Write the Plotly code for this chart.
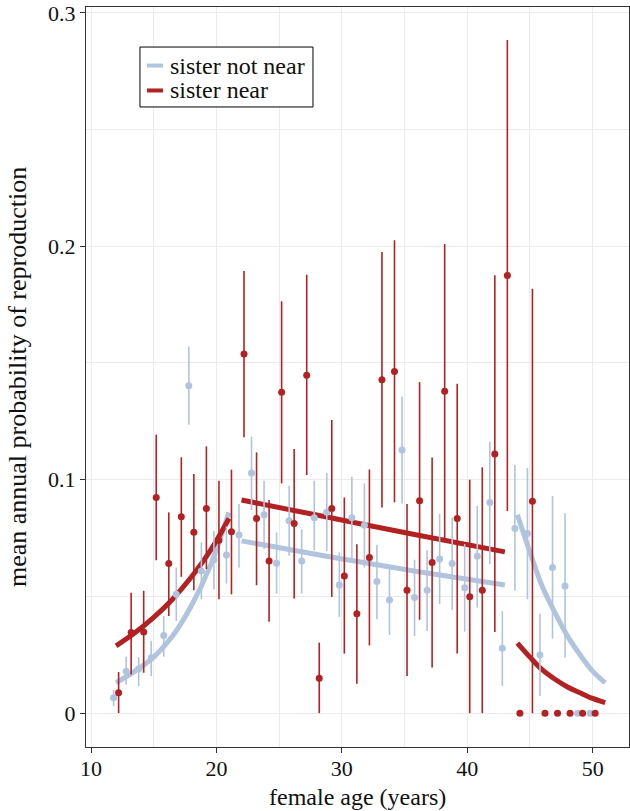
import plotly.graph_objects as go

# ---------------- data ----------------
ages_not_near = list(range(12, 51))
prob_not_near = [0.0066, 0.0179, 0.0189, 0.0237, 0.0333, 0.0509, 0.1402, 0.0609, 0.0657, 0.0677,
                 0.0763, 0.1029, 0.0850, 0.0642, 0.0824, 0.0652, 0.0837, 0.0861, 0.0549, 0.0837,
                 0.0805, 0.0564, 0.0485, 0.1127, 0.0495, 0.0527, 0.0660, 0.0641, 0.0537, 0.0672,
                 0.0902, 0.0278, 0.0791, 0.0770, 0.0249, 0.0624, 0.0545, 0.0, 0.0]
low_not_near = [0.0030, 0.0123, 0.0116, 0.0159, 0.0242, 0.0395, 0.1235, 0.0488, 0.0530, 0.0555,
                0.0624, 0.0870, 0.0703, 0.0512, 0.0674, 0.0512, 0.0698, 0.0695, 0.0412, 0.0655,
                0.0624, 0.0402, 0.0335, 0.0898, 0.0330, 0.0352, 0.0467, 0.0442, 0.0349, 0.0452,
                0.0638, 0.0116, 0.0524, 0.0488, 0.0073, 0.0319, 0.0238, 0.0, 0.0]
high_not_near = [0.0099, 0.0242, 0.0240, 0.0310, 0.0416, 0.0624, 0.1570, 0.0731, 0.0780, 0.0800,
                 0.0896, 0.1185, 0.0996, 0.0774, 0.0974, 0.0788, 0.0996, 0.1029, 0.0688, 0.1013,
                 0.0984, 0.0721, 0.0617, 0.1357, 0.0657, 0.0698, 0.0853, 0.0838, 0.0724, 0.0888,
                 0.1163, 0.0437, 0.1063, 0.1050, 0.0426, 0.0930, 0.0856, 0.0, 0.0]

ages_near = list(range(12, 51))
prob_near = [0.0087, 0.0345, 0.0348, 0.0924, 0.0641, 0.0841, 0.0775, 0.0877, 0.0741, 0.0777,
             0.1538, 0.0834, 0.0652, 0.1375, 0.0812, 0.1448, 0.0149, 0.0877, 0.0588, 0.0426,
             0.0667, 0.1428, 0.1464, 0.0527, 0.0910, 0.0645, 0.1379, 0.0834, 0.0499, 0.0527,
             0.1110, 0.1875, 0.0, 0.0908, 0.0, 0.0, 0.0, 0.0, 0.0]
low_near = [0.0, 0.0166, 0.0173, 0.0655, 0.0416, 0.0584, 0.0527, 0.0617, 0.0488, 0.0509,
            0.1182, 0.0548, 0.0392, 0.0984, 0.0491, 0.1020, 0.0, 0.0498, 0.0255, 0.0126,
            0.0290, 0.0881, 0.0903, 0.0159, 0.0400, 0.0196, 0.0748, 0.0255, 0.0, 0.0,
            0.0348, 0.0866, 0.0, 0.0, 0.0, 0.0, 0.0, 0.0, 0.0]
high_near = [0.0176, 0.0516, 0.0524, 0.1193, 0.0860, 0.1096, 0.1024, 0.1143, 0.0996, 0.1043,
             0.1894, 0.1117, 0.0913, 0.1764, 0.1132, 0.1878, 0.0302, 0.1256, 0.0924, 0.0724,
             0.1044, 0.1976, 0.2026, 0.0896, 0.1418, 0.1095, 0.2010, 0.1411, 0.1000, 0.1053,
             0.1876, 0.2884, 0.0, 0.1818, 0.0, 0.0, 0.0, 0.0, 0.0]

# fitted curves (three age segments)
fit_early_age = [12, 13.5, 15, 16.5, 18, 19.5, 21]
fit_early_not_near = [0.013, 0.018, 0.024, 0.033, 0.046, 0.063, 0.086]
fit_early_near = [0.0288, 0.0344, 0.0410, 0.0488, 0.0583, 0.0695, 0.0834]

fit_mid_age = [22, 29, 36, 43]
fit_mid_not_near = [0.0738, 0.0670, 0.0607, 0.0549]
fit_mid_near = [0.0913, 0.0838, 0.0763, 0.0691]

fit_late_age = [44, 45, 46, 47, 48, 49, 50, 51]
fit_late_not_near = [0.085, 0.069, 0.054, 0.043, 0.033, 0.025, 0.018, 0.013]
fit_late_near = [0.030, 0.024, 0.0185, 0.0145, 0.0112, 0.0087, 0.0063, 0.0045]

x_ticks = [10, 20, 30, 40, 50]
y_ticks = [0, 0.1, 0.2, 0.3]
y_tick_labels = ["0", "0.1", "0.2", "0.3"]

series_names = ["sister not near", "sister near"]
x_title = "female age (years)"
y_title = "mean annual probability of reproduction"

# ---------------- styling ----------------
BLUE = "#b0c4de"
RED = "#b22222"
DODGE = 0.2
FONT = "Liberation Serif"
TXT = "#111111"

fig = go.Figure()

# fitted curves
for ages, vals, col in [
    (fit_early_age, fit_early_not_near, BLUE), (fit_mid_age, fit_mid_not_near, BLUE),
    (fit_late_age, fit_late_not_near, BLUE),
    (fit_early_age, fit_early_near, RED), (fit_mid_age, fit_mid_near, RED),
    (fit_late_age, fit_late_near, RED),
]:
    fig.add_trace(go.Scatter(x=ages, y=vals, mode="lines", line=dict(color=col, width=5, shape="spline"),
                             showlegend=False, hoverinfo="skip"))

def point_trace(ages, vals, lows, highs, col, shift, name):
    xs = [a + shift for a in ages]
    plus = [h - v for v, h in zip(vals, highs)]
    minus = [v - l for v, l in zip(vals, lows)]
    return go.Scatter(x=xs, y=vals, mode="markers", name=name,
                      marker=dict(color=col, size=7),
                      error_y=dict(type="data", symmetric=False, array=plus, arrayminus=minus,
                                   color=col, thickness=1.6, width=0),
                      showlegend=False)

fig.add_trace(point_trace(ages_not_near, prob_not_near, low_not_near, high_not_near, BLUE, -DODGE,
                          series_names[0]))
fig.add_trace(point_trace(ages_near, prob_near, low_near, high_near, RED, DODGE, series_names[1]))

# legend box (drawn in paper coordinates, like the ggplot inset legend)
LEG_X0, LEG_X1, LEG_Y0, LEG_Y1 = 0.0994, 0.418, 0.8649, 0.9459
LEG_ROWS = [0.9209, 0.8872]
fig.add_shape(type="rect", xref="paper", yref="paper", x0=LEG_X0, x1=LEG_X1, y0=LEG_Y0, y1=LEG_Y1,
              line=dict(color="black", width=1), fillcolor="white", layer="above")
for name, col, yy in zip(series_names, [BLUE, RED], LEG_ROWS):
    fig.add_shape(type="line", xref="paper", yref="paper", x0=0.1123, x1=0.1418, y0=yy, y1=yy,
                  line=dict(color=col, width=4), layer="above")
    fig.add_annotation(xref="paper", yref="paper", x=0.151, y=yy, text=name, showarrow=False,
                       xanchor="left", yanchor="middle",
                       font=dict(family=FONT, size=24, color=TXT))

# axis titles placed like the reference
fig.add_annotation(xref="paper", yref="paper", x=-0.127, y=0.5, text=y_title, textangle=-90,
                   showarrow=False, xanchor="center", yanchor="middle",
                   font=dict(family=FONT, size=26, color=TXT))
fig.add_annotation(xref="paper", yref="paper", x=0.5, y=-0.0862, text=x_title,
                   showarrow=False, xanchor="center", yanchor="bottom", borderpad=0,
                   font=dict(family=FONT, size=24, color=TXT))

axis_common = dict(showgrid=True, gridcolor="#ebebeb", gridwidth=1, zeroline=False,
                   showline=True, linecolor="#333333", linewidth=1, mirror=True,
                   ticks="outside", ticklen=5, tickcolor="#333333", automargin=False,
                   tickfont=dict(family=FONT, size=22, color=TXT))

fig.update_layout(
    width=630, height=811,
    margin=dict(l=86, r=1, t=7, b=64, autoexpand=False),
    paper_bgcolor="white", plot_bgcolor="white",
    font=dict(family=FONT, size=22, color=TXT),
    xaxis=dict(range=[9.6, 52.9], tickvals=x_ticks, ticklabelstandoff=-3,
               minor=dict(dtick=5, tick0=0, showgrid=True, gridcolor="#ebebeb", gridwidth=1, ticks=""),
               **axis_common),
    yaxis=dict(range=[-0.0145, 0.3025], tickvals=y_ticks, ticktext=y_tick_labels,
               minor=dict(dtick=0.05, tick0=0, showgrid=True, gridcolor="#ebebeb", gridwidth=1, ticks=""),
               **axis_common),
    showlegend=False,
)

fig.write_html("out.html", config={"displayModeBar": False},
               post_script="document.body.style.margin='0';")
